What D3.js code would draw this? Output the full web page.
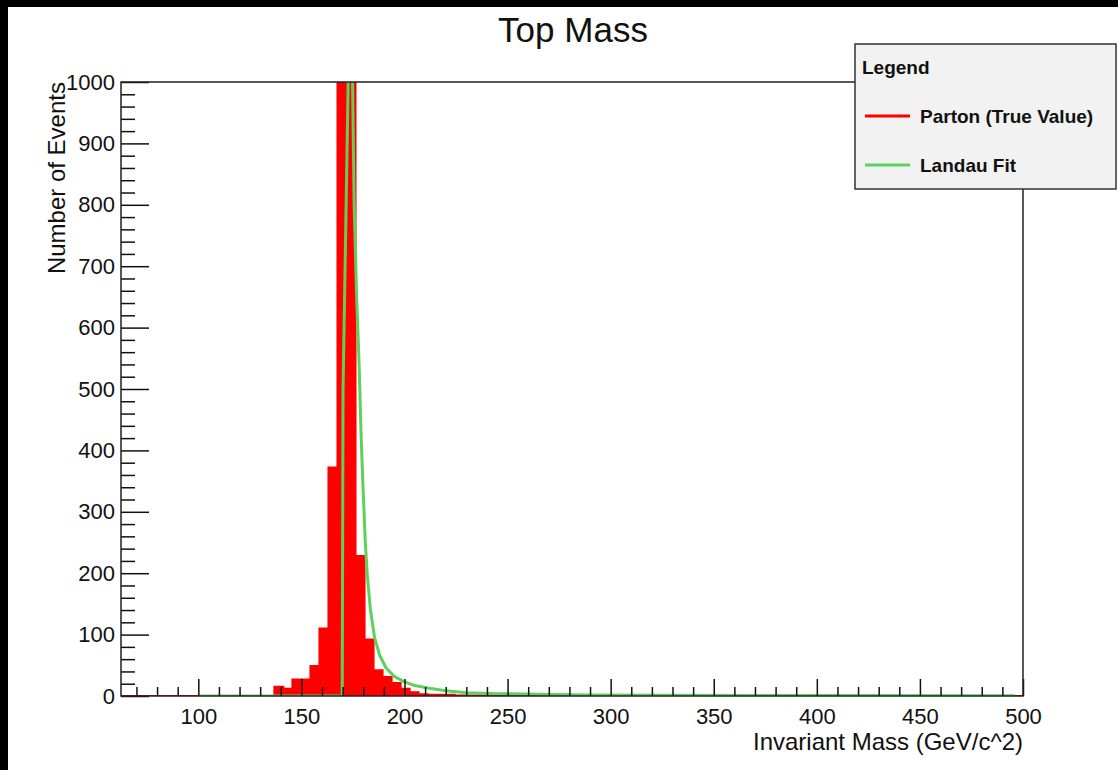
<!DOCTYPE html>
<html>
  <head>
    <meta charset="utf-8">
    <script src="https://d3js.org/d3.v7.min.js"></script>
    <title>Top Mass</title>
    <style>
      html, body { margin: 0; padding: 0; background: #fff; }
      svg { display: block; font-family: "Liberation Sans", Arial, sans-serif; }
    </style>
  </head>
  <body>
    <svg id="chartSvg" width="1118" height="770"></svg>
    <script>
      // histogram: 100 bins over [62.5, 500], only filled bins listed
      var histRange = [62.5, 500];
      var histBins = 100;
      var binLow = [136.875, 141.25, 145.625, 150, 154.375, 158.75, 163.125, 167.5, 171.875, 176.25,
                    180.625, 185, 189.375, 193.75, 198.125, 202.5, 206.875, 211.25, 215.625, 220,
                    224.375, 228.75, 233.125];
      var binCount = [15, 12, 27, 27, 49, 110, 372, 1350, 1600, 228,
                      92, 42, 31, 21, 12, 6, 3, 2, 2, 2,
                      1, 1, 1];

      // landau fit
      var fitX = [100, 169.8, 170.2, 172.7, 173.6, 174.8, 175.6, 176.8, 178.0, 179.0, 180.0, 181.0, 182.0,
                  183.5, 185.5, 188, 191, 195, 200, 205, 212, 220, 230, 245, 265, 290, 330, 400, 496];
      var fitY = [0, 0, 500, 1000, 1080, 1000, 800, 650, 540, 420, 330, 250, 195,
                  140, 95, 66, 46, 32, 23, 17, 12.5, 8.6, 5.4, 3.8, 3, 1.8, 1.2, 0.7, 0.3];

      var xMajor = [100, 150, 200, 250, 300, 350, 400, 450, 500];
      var yMajor = [0, 100, 200, 300, 400, 500, 600, 700, 800, 900, 1000];

      var legendLabels = ["Parton (True Value)", "Landau Fit"];
      var legendColors = ["#ff0000", "#5cd25c"];

      var svg = d3.select("svg"),
          width = +svg.attr("width"),
          height = +svg.attr("height");

      var frame = {left: 121, right: 1023, top: 82, bottom: 696};

      // dark border of the screenshot
      svg.append("rect").attr("width", width).attr("height", height).style("fill", "#000");
      svg.append("rect").attr("x", 8).attr("y", 7).attr("width", width - 8).attr("height", height - 7)
        .style("fill", "#fff");

      var x = d3.scaleLinear().domain(histRange).range([frame.left, frame.right]);
      var y = d3.scaleLinear().domain([0, 1000]).range([frame.bottom, frame.top]);

      svg.append("clipPath").attr("id", "frameClip")
        .append("rect")
        .attr("x", frame.left).attr("y", frame.top)
        .attr("width", frame.right - frame.left).attr("height", frame.bottom - frame.top);

      // full bin list, zero where nothing was read
      var binW = (histRange[1] - histRange[0]) / histBins;
      var bins = [];
      for (let i = 0; i < histBins; i++) {
        var lo = histRange[0] + i * binW;
        var j = binLow.findIndex(function(b) { return Math.abs(b - lo) < 1e-6; });
        bins.push({x: lo, y: j >= 0 ? binCount[j] : 0});
      }
      bins.push({x: histRange[1], y: 0});

      var histArea = d3.area()
        .x(d => x(d.x))
        .y0(y(0))
        .y1(d => y(d.y))
        .curve(d3.curveStepAfter);

      var plot = svg.append("g").attr("clip-path", "url(#frameClip)");

      plot.append("path")
        .datum(bins)
        .attr("d", histArea)
        .style("fill", "#ff0000")
        .style("stroke", "#ff0000")
        .style("stroke-width", 2);

      var fitLine = d3.line()
        .x((d, i) => x(fitX[i]))
        .y((d, i) => y(Math.min(fitY[i], 1150)));

      plot.append("path")
        .datum(fitX)
        .attr("d", fitLine)
        .style("fill", "none")
        .style("stroke", legendColors[1])
        .style("stroke-width", 3)
        .style("stroke-linejoin", "round");

      // axes, ROOT style: ticks pointing into the frame
      var xAxisMinor = d3.axisBottom(x)
        .tickValues(d3.range(70, 500, 10).filter(v => v % 50 !== 0))
        .tickSize(-9).tickFormat("");
      var xAxisMajor = d3.axisBottom(x)
        .tickValues(xMajor)
        .tickSize(-17).tickPadding(12).tickFormat(d3.format("d"));

      var yAxisMinor = d3.axisLeft(y)
        .tickValues(d3.range(20, 1000, 20).filter(v => v % 100 !== 0))
        .tickSize(-14).tickFormat("");
      var yAxisMajor = d3.axisLeft(y)
        .tickValues(yMajor)
        .tickSize(-28).tickPadding(6).tickFormat(d3.format("d"));

      function styleAxis(g) {
        g.select(".domain").remove();
        g.selectAll(".tick line").style("stroke", "#111").style("stroke-width", 1.5);
        g.selectAll(".tick text")
          .style("font-family", "'Liberation Sans', Arial, sans-serif")
          .style("font-size", "22px")
          .style("fill", "#111");
      }

      svg.append("g").attr("transform", `translate(0,${frame.bottom})`).call(xAxisMinor).call(styleAxis);
      svg.append("g").attr("transform", `translate(0,${frame.bottom})`).call(xAxisMajor).call(styleAxis);
      svg.append("g").attr("transform", `translate(${frame.left},0)`).call(yAxisMinor).call(styleAxis);
      svg.append("g").attr("transform", `translate(${frame.left},0)`).call(yAxisMajor).call(styleAxis);

      // frame
      svg.append("rect")
        .attr("x", frame.left).attr("y", frame.top)
        .attr("width", frame.right - frame.left).attr("height", frame.bottom - frame.top)
        .style("fill", "none").style("stroke", "#222").style("stroke-width", 1.5);

      // titles
      svg.append("text")
        .attr("x", 573).attr("y", 42)
        .attr("text-anchor", "middle")
        .style("font-size", "35px").style("fill", "#111")
        .text("Top Mass");

      svg.append("text")
        .attr("x", frame.right).attr("y", 750)
        .attr("text-anchor", "end")
        .style("font-size", "24px").style("fill", "#111")
        .text("Invariant Mass (GeV/c^2)");

      svg.append("text")
        .attr("transform", `translate(65,${frame.top}) rotate(-90)`)
        .attr("text-anchor", "end")
        .style("font-size", "24px").style("fill", "#111")
        .text("Number of Events");

      // legend
      var legend = svg.append("g").attr("transform", "translate(855,44)");
      legend.append("rect")
        .attr("width", 261).attr("height", 145)
        .style("fill", "#f2f2f2").style("stroke", "#333").style("stroke-width", 1.5);
      legend.append("text")
        .attr("x", 7).attr("y", 30)
        .style("font-size", "19px").style("font-weight", "bold").style("fill", "#111")
        .text("Legend");

      var entries = legend.selectAll("g.entry")
        .data(legendLabels)
        .enter()
        .append("g")
        .attr("class", "entry")
        .attr("transform", (d, i) => `translate(0,${72 + i * 49})`);

      entries.append("line")
        .attr("x1", 10).attr("x2", 55)
        .style("stroke", (d, i) => legendColors[i])
        .style("stroke-width", 3);
      entries.append("text")
        .attr("x", 65).attr("y", 7)
        .style("font-size", "19px").style("font-weight", "bold").style("fill", "#111")
        .text(d => d);
    </script>
  </body>
</html>
